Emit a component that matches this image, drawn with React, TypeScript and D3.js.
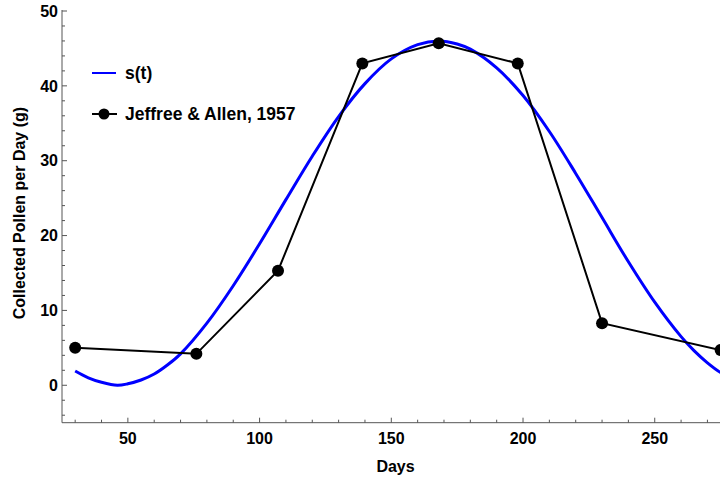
import React from "react";
import * as d3 from "d3";

const modelDays = [28, 30, 35, 40, 46, 50, 55, 60, 65, 70, 80, 90, 100, 110, 120, 130, 140, 150, 160, 168, 175, 180, 190, 200, 210, 220, 230, 240, 250, 260, 265, 270, 275, 280];
const modelValues = [2.4, 1.9, 1.0, 0.4, 0.0, 0.2, 0.7, 1.5, 2.7, 4.2, 8.3, 13.3, 18.9, 24.8, 30.6, 35.9, 40.3, 43.6, 45.5, 46.0, 45.6, 44.9, 42.4, 38.7, 33.9, 28.3, 22.4, 16.5, 11.1, 6.5, 4.6, 3.0, 1.7, 0.8];

const obsDays = [30, 76, 107, 139, 168, 198, 230, 275];
const obsValues = [5.0, 4.2, 15.3, 43.0, 45.7, 43.0, 8.3, 4.7];

const xMajor = [50, 100, 150, 200, 250];
const yMajor = [0, 10, 20, 30, 40, 50];

export default function App() {
  const W = 720, H = 479;
  const left = 62, right = 720.6, top = 11, bottom = 422.7;
  const x = d3.scaleLinear().domain([25, 275]).range([left, right]);
  const y = d3.scaleLinear().domain([-5, 50]).range([bottom, top]);
  const xMinor = d3.range(30, 281, 10).filter((v) => !xMajor.includes(v));
  const yMinor = d3.range(-4, 50, 2).filter((v) => !yMajor.includes(v));
  const modelPts = modelDays.map((d, i) => [d, modelValues[i]] as [number, number]).filter((p) => p[0] >= 30);
  const line = d3.line<[number, number]>().x((d) => x(d[0])).y((d) => y(d[1])).curve(d3.curveCatmullRom);
  const obsLine = d3.line<[number, number]>().x((d) => x(d[0])).y((d) => y(d[1]));
  const obsPts = obsDays.map((d, i) => [d, obsValues[i]] as [number, number]);
  const font = "'Liberation Sans', Arial, sans-serif";
  const axisColor = "#555";
  const fs = 16;
  const lfs = 17.5;
  return (
    <svg width={W} height={H} style={{ position: "absolute", left: 0, top: 0, background: "#fff" }} fontFamily={font}>
      <defs>
        <clipPath id="plot">
          <rect x={left} y={0} width={right - left} height={bottom} />
        </clipPath>
      </defs>
      <line x1={left} x2={left} y1={top - 1} y2={bottom} stroke={axisColor} strokeWidth={1} />
      <line x1={left} x2={W} y1={bottom} y2={bottom} stroke={axisColor} strokeWidth={1} />
      {yMajor.map((v) => (
        <g key={"ym" + v}>
          <line x1={left} x2={left + 5} y1={y(v)} y2={y(v)} stroke={axisColor} />
          <text x={left - 4} y={y(v)} dy="0.36em" textAnchor="end" fontSize={fs} fontWeight="bold" fill="#000">{v}</text>
        </g>
      ))}
      {yMinor.map((v) => (
        <line key={"yn" + v} x1={left} x2={left + 3} y1={y(v)} y2={y(v)} stroke={axisColor} />
      ))}
      {xMajor.map((v) => (
        <g key={"xm" + v}>
          <line x1={x(v)} x2={x(v)} y1={bottom} y2={bottom - 5} stroke={axisColor} />
          <text x={x(v)} y={bottom + 21} textAnchor="middle" fontSize={fs} fontWeight="bold" fill="#000">{v}</text>
        </g>
      ))}
      {xMinor.map((v) => (
        <line key={"xn" + v} x1={x(v)} x2={x(v)} y1={bottom} y2={bottom - 3} stroke={axisColor} />
      ))}
      <text x={395.5} y={471.5} textAnchor="middle" fontSize={fs} fontWeight="bold">Days</text>
      <text transform={`translate(25, ${y(23)}) rotate(-90)`} textAnchor="middle" fontSize={fs} fontWeight="bold">Collected Pollen per Day (g)</text>
      <g clipPath="url(#plot)">
        <path d={line(modelPts) || ""} fill="none" stroke="#0000ff" strokeWidth={3} />
        <path d={obsLine(obsPts) || ""} fill="none" stroke="#000" strokeWidth={2} />
        {obsPts.map((p, i) => (
          <circle key={i} cx={x(p[0])} cy={y(p[1])} r={6} fill="#000" />
        ))}
      </g>
      <line x1={92} x2={116} y1={73} y2={73} stroke="#0000ff" strokeWidth={2} />
      <text x={125} y={73} dy="0.36em" fontSize={lfs} fontWeight="bold">s(t)</text>
      <line x1={92} x2={117} y1={114} y2={114} stroke="#000" strokeWidth={2} />
      <circle cx={104} cy={114} r={5.5} fill="#000" />
      <text x={125} y={114} dy="0.36em" fontSize={lfs} fontWeight="bold">Jeffree &amp; Allen, 1957</text>
    </svg>
  );
}
